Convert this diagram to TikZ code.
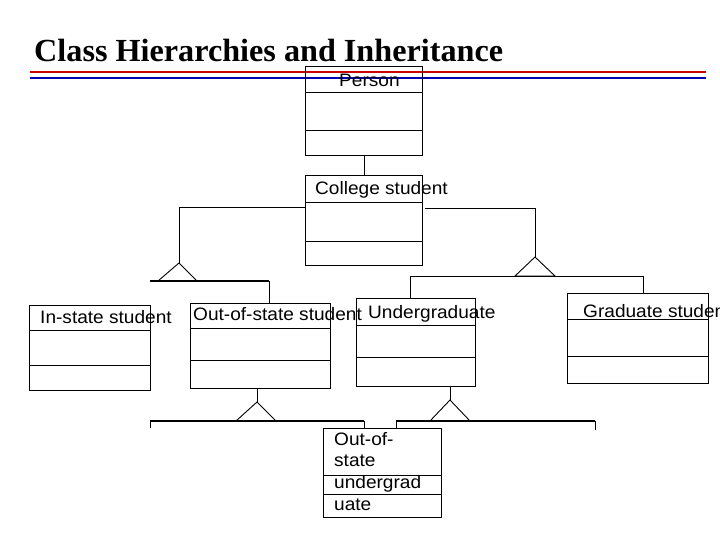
\documentclass[tikz,border=0pt]{standalone}
\usepackage{fontspec}
\setmainfont{Liberation Serif}
\newfontfamily\arial[FakeStretch=1.06]{Liberation Sans}
\begin{document}
\begin{tikzpicture}[x=1pt,y=-1pt,
  cls/.style={draw,line width=0.9pt,anchor=north west,inner sep=0pt},
  lbl/.style={font=\arial\fontsize{18}{20}\selectfont,anchor=west,inner sep=0pt},
  ln/.style={line width=0.9pt},
  thick2/.style={line width=1.8pt}]
\useasboundingbox (0,0) rectangle (720,540);
\clip (0,0) rectangle (720,540);
\node[anchor=west,inner sep=0pt,font=\bfseries\fontsize{32.2}{34}\selectfont] (title) at (34,50) {Class Hierarchies and Inheritance};
\draw[red!80!black,line width=2.5pt] (30,72) -- (706,72);
\draw[blue!70!black,line width=2.5pt] (30,78) -- (706,78);
\node[cls,minimum width=117pt,minimum height=89pt] (person) at (305,66) {};
\draw[ln] (305,92) -- (422,92); \draw[ln] (305,130) -- (422,130);
\node[lbl] (persont) at (339,80) {Person};
\node[cls,minimum width=117pt,minimum height=90pt] (college) at (305,175) {};
\draw[ln] (305,202) -- (422,202); \draw[ln] (305,241) -- (422,241);
\node[lbl] (colleget) at (315,190) {College student};
\node[cls,minimum width=121pt,minimum height=85pt] (instate) at (29,305) {};
\draw[ln] (29,330) -- (150,330); \draw[ln] (29,365) -- (150,365);
\node[lbl] (instatet) at (40,317) {In-state student};
\node[cls,minimum width=140pt,minimum height=85pt] (outstate) at (190,303) {};
\draw[ln] (190,328) -- (330,328); \draw[ln] (190,360) -- (330,360);
\node[lbl] (outstatet) at (193,314) {Out-of-state student};
\node[cls,minimum width=119pt,minimum height=88pt] (under) at (356,298) {};
\draw[ln] (356,325) -- (475,325); \draw[ln] (356,357) -- (475,357);
\node[lbl] (undert) at (368,314) {Undergraduate};
\node[cls,minimum width=141pt,minimum height=90pt] (grad) at (567,293) {};
\draw[ln] (567,319) -- (708,319); \draw[ln] (567,356) -- (708,356);
\node[lbl] (gradt) at (583,311) {Graduate student};
\node[cls,minimum width=118pt,minimum height=89pt] (osu) at (323,428) {};
\draw[ln] (323,475) -- (441,475); \draw[ln] (323,494) -- (441,494);
\node[lbl,align=left,anchor=north west,font=\arial\fontsize{18}{21.7}\selectfont] (osut) at (334,432) {Out-of-\\state\\undergrad\\uate};
% connectors
\draw[ln] (person.south) -- (college.north);
\coordinate (la) at (179,263);
\draw[ln] (college.west |- 0,207) -| (la);
\draw[ln] (la) -- (158,281) -- (197,281) -- cycle;
\draw[thick2] (150,281) -- (269,281);
\draw[ln] (269,281) -- (outstate.north -| 269,0);
\coordinate (ra) at (535,257);
\draw[ln] (425,208) -| (ra);
\draw[ln] (ra) -- (515,276) -- (555,276) -- cycle;
\draw[ln] (410,276) -- (643,276);
\draw[ln] (410,276) -- (410,298);
\draw[ln] (643,276) -- (643,293);
\coordinate (ba) at (257,402);
\draw[ln] (257,388) -- (ba);
\draw[ln] (ba) -- (236,421) -- (276,421) -- cycle;
\draw[thick2] (150,421) -- (364,421);
\draw[ln] (150,421) -- (150,428);
\draw[ln] (364,421) -- (364,428);
\coordinate (ca) at (450,400);
\draw[ln] (450,386) -- (ca);
\draw[ln] (ca) -- (430,421) -- (470,421) -- cycle;
\draw[thick2] (396,421) -- (595,421);
\draw[ln] (396,421) -- (396,428);
\draw[ln] (595,421) -- (595,430);
\end{tikzpicture}
\end{document}
